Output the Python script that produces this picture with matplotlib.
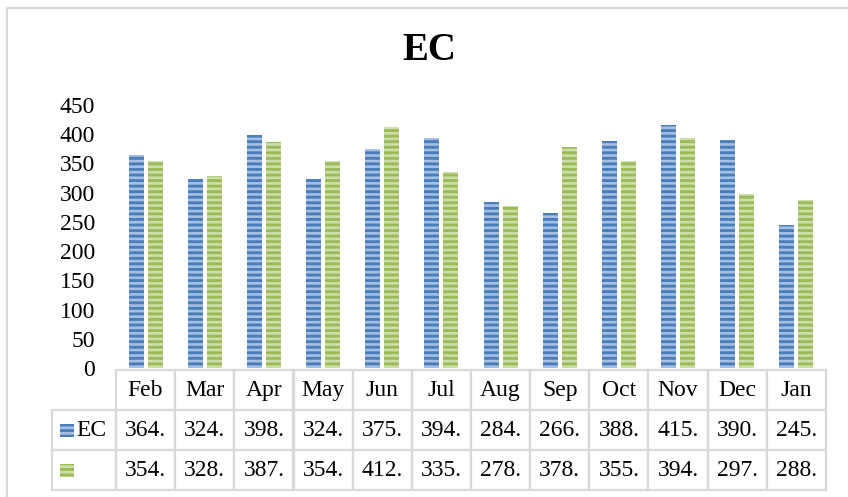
import numpy as np
import matplotlib.pyplot as plt
from matplotlib.patches import Rectangle
from matplotlib.lines import Line2D

months = ["Feb", "Mar", "Apr", "May", "Jun", "Jul", "Aug", "Sep", "Oct", "Nov", "Dec", "Jan"]
ec_values = [364, 324, 398, 324, 375, 394, 284, 266, 388, 415, 390, 245]
second_values = [354, 328, 387, 354, 412, 335, 278, 378, 355, 394, 297, 288]
series_names = ["EC", ""]
y_ticks = [0, 50, 100, 150, 200, 250, 300, 350, 400, 450]

W, H = 848, 497
plt.rcParams["font.family"] = ["Liberation Serif", "DejaVu Serif"]
plt.rcParams["hatch.linewidth"] = 2.1

blue_dark, blue_light = "#4a7ebb", "#a6bfe2"
green_dark, green_light = "#9bbb59", "#cddeab"
grid_gray = "#d9d9d9"
fs = 17

fig = plt.figure(figsize=(W / 100, H / 100), dpi=100)
ax = fig.add_axes([116 / W, 1 - 368 / H, 710 / W, 263 / H])

x = np.arange(len(months))
bw = 0.253
off = 0.16
ax.bar(x - off, ec_values, bw, color=blue_light, edgecolor=blue_dark, hatch="---", linewidth=0)
ax.bar(x + off, second_values, bw, color=green_light, edgecolor=green_dark, hatch="---", linewidth=0)

ax.set_xlim(-0.5, len(months) - 0.5)
ax.set_ylim(0, 450)
ax.set_yticks(y_ticks)
ax.set_yticklabels([str(t) for t in y_ticks], fontsize=fs)
ax.tick_params(axis="y", length=0, pad=15)
ax.set_xticks([])
for s in ax.spines.values():
    s.set_visible(False)

# data table below the axes
label_w = 64 / 710
cell_w = 1 / 12
cell_text = [[""] + months,
             [series_names[0]] + [f"{v:.0f}." for v in ec_values],
             [series_names[1]] + [f"{v:.0f}." for v in second_values]]
tab = ax.table(cellText=cell_text, colWidths=[label_w] + [cell_w] * 12,
               cellLoc="center", bbox=[-label_w, -(490 - 368) / 263, 1 + label_w, 120 / 263])
tab.auto_set_font_size(False)
for (r, c), cell in tab.get_celld().items():
    cell.set_edgecolor(grid_gray)
    cell.set_linewidth(1.6)
    cell.get_text().set_fontsize(fs)
    if c == 0:
        cell.get_text().set_text("")
    if r == 0 and c == 0:
        cell.visible_edges = ""

# legend keys inside the first column
for row, (name, dark, light) in enumerate([(series_names[0], blue_dark, blue_light),
                                           (series_names[1], green_dark, green_light)]):
    yc = 430 + row * 40
    fig.patches.append(Rectangle((60 / W, 1 - (yc + 7) / H), 14 / W, 13 / H,
                                 transform=fig.transFigure, facecolor=light,
                                 edgecolor=dark, hatch="---", linewidth=0))
    fig.text(76 / W, 1 - yc / H, name, fontsize=fs, va="center", ha="left")

fig.text(429 / W, 1 - 51 / H, "EC", fontsize=28, fontweight="bold", ha="center", va="center")

# chart frame (top and left edges visible)
fig.lines.append(Line2D([7 / W, 1], [1 - 8 / H, 1 - 8 / H], transform=fig.transFigure, color=grid_gray, lw=1.5))
fig.lines.append(Line2D([7 / W, 7 / W], [0, 1 - 8 / H], transform=fig.transFigure, color=grid_gray, lw=1.5))

fig.savefig("out.png", dpi=100)
